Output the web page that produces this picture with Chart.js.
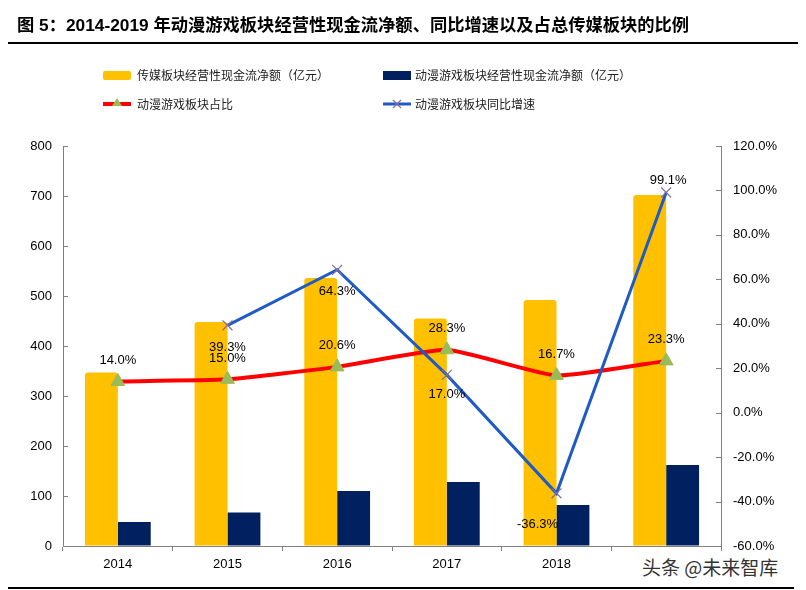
<!DOCTYPE html>
<html><head><meta charset="utf-8">
<script src="https://cdn.jsdelivr.net/npm/chart.js@4.4.1/dist/chart.umd.min.js"></script>
<style>
html,body{margin:0;padding:0;background:#fff;}
#wrap{position:relative;width:806px;height:590px;overflow:hidden;font-family:"Liberation Sans","Noto Sans CJK SC",Arial,sans-serif;}
#c{position:absolute;left:0;top:0;}
#title{position:absolute;left:17px;top:11px;font-size:17.3px;font-weight:bold;color:#000;white-space:nowrap;font-family:"Liberation Sans","Noto Sans CJK SC",sans-serif;}
#topline{position:absolute;left:8px;top:42px;width:790px;height:2px;background:#000;}
#botline{position:absolute;left:8px;top:587px;width:786px;height:2px;background:#000;}
.lg{position:absolute;font-size:12px;color:#222;white-space:nowrap;font-family:"Noto Sans CJK SC",sans-serif;line-height:14px;}
.sw{position:absolute;}
#wm{position:absolute;left:638px;top:553px;padding:0 4px;font-size:19px;line-height:28px;color:#333;background:#fff;font-family:"Noto Sans CJK SC",sans-serif;white-space:nowrap;}
</style></head>
<body><div id="wrap">
<canvas id="c" width="806" height="590"></canvas>
<div id="title">图 5：2014-2019 年动漫游戏板块经营性现金流净额、同比增速以及占总传媒板块的比例</div>
<div id="topline"></div>
<div class="sw" style="left:103px;top:71px;width:28px;height:9px;background:#FFC000;border-radius:2px;"></div>
<div class="lg" style="left:137px;top:68px;">传媒板块经营性现金流净额（亿元）</div>
<div class="sw" style="left:383px;top:71px;width:28px;height:9px;background:#002060;"></div>
<div class="lg" style="left:415px;top:68px;">动漫游戏板块经营性现金流净额（亿元）</div>
<svg class="sw" style="left:101px;top:96px;" width="32" height="14"><line x1="2" y1="8" x2="30" y2="8" stroke="#FF0000" stroke-width="4"/><polygon points="16,2 21,10 11,10" fill="#9BBB59"/></svg>
<div class="lg" style="left:137px;top:97px;">动漫游戏板块占比</div>
<svg class="sw" style="left:381px;top:96px;" width="32" height="14"><line x1="2" y1="8" x2="30" y2="8" stroke="#1F5BC6" stroke-width="3"/><path d="M12,4 L20,12 M20,4 L12,12" stroke="#7F6FA5" stroke-width="1.2"/></svg>
<div class="lg" style="left:415px;top:97px;">动漫游戏板块同比增速</div>
<div id="wm">头条 @未来智库</div>
<div id="botline"></div>
</div>
<script>
const categories = ['2014','2015','2016','2017','2018','2019'];
const mediaCashFlow = [347, 448, 536, 455, 492, 702];
const animeCashFlow = [48, 67, 110, 128, 82, 162];
const animeShare = [14.0, 15.0, 20.6, 28.3, 16.7, 23.3];
const animeYoY = [null, 39.3, 64.3, 17.0, -36.3, 99.1];
const leftTicks = [0, 800, 100];
const rightTicks = [-60, 120, 20];

const labelPlugin = {
  id: 'labels',
  afterDatasetsDraw(chart) {
    const ctx = chart.ctx;
    ctx.save();
    ctx.font = '13px "Liberation Sans", Arial, sans-serif';
    ctx.fillStyle = '#000';
    ctx.textAlign = 'center';
    ctx.textBaseline = 'middle';
    const m2 = chart.getDatasetMeta(2);
    m2.data.forEach((p, i) => {
      ctx.fillText(animeShare[i].toFixed(1) + '%', p.x, p.y - 21);
    });
    const place = [null, [0, 22], [0, 22], [0, 20], [-19, 31], [2, -12]];
    const m3 = chart.getDatasetMeta(3);
    m3.data.forEach((p, i) => {
      if (animeYoY[i] === null) return;
      const o = place[i];
      ctx.fillText(animeYoY[i].toFixed(1) + '%', p.x + o[0], p.y + o[1]);
    });
    ctx.restore();
  },
  afterDraw(chart) {
    const ctx = chart.ctx, a = chart.chartArea;
    ctx.save();
    ctx.strokeStyle = '#808080';
    ctx.lineWidth = 1;
    const sy = chart.scales.y, sy1 = chart.scales.y1;
    sy.ticks.forEach(t => {
      const y = Math.round(sy.getPixelForValue(t.value)) + 0.5;
      ctx.beginPath(); ctx.moveTo(a.left, y); ctx.lineTo(a.left + 5, y); ctx.stroke();
    });
    sy1.ticks.forEach(t => {
      const y = Math.round(sy1.getPixelForValue(t.value)) + 0.5;
      ctx.beginPath(); ctx.moveTo(a.right - 5, y); ctx.lineTo(a.right, y); ctx.stroke();
    });
    ctx.restore();
  }
};

new Chart(document.getElementById('c'), {
  type: 'bar',
  data: {
    labels: categories,
    datasets: [
      { type: 'bar', label: '传媒板块经营性现金流净额（亿元）', data: mediaCashFlow, backgroundColor: '#FFC000', yAxisID: 'y', order: 2, borderRadius: 3, categoryPercentage: 0.6, barPercentage: 1.0 },
      { type: 'bar', label: '动漫游戏板块经营性现金流净额（亿元）', data: animeCashFlow, backgroundColor: '#002060', yAxisID: 'y', order: 2, categoryPercentage: 0.6, barPercentage: 1.0 },
      { type: 'line', label: '动漫游戏板块占比', data: animeShare, borderColor: '#FF0000', borderWidth: 4, tension: 0.15, pointStyle: 'triangle', pointRadius: 8, pointBackgroundColor: '#9BBB59', pointBorderColor: '#9BBB59', pointBorderWidth: 1, yAxisID: 'y1', order: 1 },
      { type: 'line', label: '动漫游戏板块同比增速', data: animeYoY, borderColor: '#1F5BC6', borderWidth: 3, tension: 0, pointStyle: 'cross', rotation: 45, pointRadius: 7, pointBorderColor: '#7F6FA5', pointBorderWidth: 1.2, yAxisID: 'y1', order: 0 }
    ]
  },
  options: {
    responsive: false,
    animation: false,
    devicePixelRatio: 1,
    layout: { padding: { top: 146, left: 0, right: 0, bottom: 0 } },
    plugins: { legend: { display: false }, title: { display: false }, tooltip: { enabled: false } },
    scales: {
      x: {
        offset: true,
        grid: { display: true, drawOnChartArea: false, tickLength: 5, color: '#808080', offset: true },
        border: { display: true, color: '#808080', width: 1 },
        ticks: { color: '#000', font: { size: 13, family: '"Liberation Sans", Arial, sans-serif' }, padding: 6, maxRotation: 0 },
        afterFit: s => { s.height = 44; }
      },
      y: {
        position: 'left', min: leftTicks[0], max: leftTicks[1],
        ticks: { stepSize: leftTicks[2], color: '#000', padding: 11, font: { size: 13, family: '"Liberation Sans", Arial, sans-serif' } },
        grid: { display: true, drawOnChartArea: false, tickLength: 0 },
        border: { display: true, color: '#808080', width: 1 },
        afterFit: s => { s.width = 63; }
      },
      y1: {
        position: 'right', min: rightTicks[0], max: rightTicks[1],
        ticks: { stepSize: rightTicks[2], color: '#000', padding: 12, font: { size: 13, family: '"Liberation Sans", Arial, sans-serif' }, callback: v => v.toFixed(1) + '%' },
        grid: { display: true, drawOnChartArea: false, tickLength: 0 },
        border: { display: true, color: '#808080', width: 1 },
        afterFit: s => { s.width = 85; }
      }
    }
  },
  plugins: [labelPlugin]
});
</script>
</body></html>
